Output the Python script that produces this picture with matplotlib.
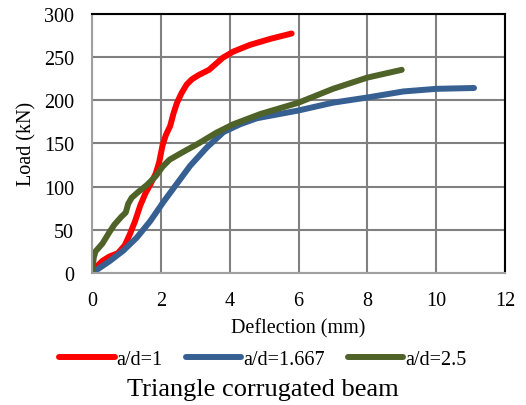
import matplotlib.pyplot as plt

plt.rcParams['font.family'] = ['Liberation Serif', 'DejaVu Serif']

# a/d=1
x1 = [0, 0.15, 0.3, 0.5, 0.75, 0.95, 1.1, 1.25, 1.4, 1.55, 1.7, 1.85, 1.95, 2.05, 2.15,
      2.27, 2.37, 2.47, 2.6, 2.75, 2.9, 3.1, 3.4, 3.6, 3.8, 4.1, 4.6, 5.2, 5.8]
y1 = [0, 8, 14, 19, 23, 32, 45, 60, 78, 92, 103, 115, 128, 148, 160,
      170, 185, 197, 208, 218, 224, 229, 235, 242, 249, 256, 264, 271, 277]
# a/d=1.667
x2 = [0, 0.52, 0.91, 1.3, 1.69, 2.07, 2.46, 2.85, 3.33, 3.82, 4.3, 4.79, 6.0, 7.0, 8.0, 9.05, 10.0, 11.1]
y2 = [0, 14, 26, 41, 60, 82, 103, 124, 145, 163, 172, 179, 188, 197, 203, 210, 213, 214]
# a/d=2.5
x3 = [0, 0.05, 0.1, 0.3, 0.5, 0.65, 0.85, 0.98, 1.05, 1.15, 1.35, 1.6, 1.85, 2.05,
      2.25, 2.6, 3.1, 3.6, 4.1, 4.9, 6.0, 7.0, 8.0, 9.0]
y3 = [0, 18, 25, 34, 47, 56, 65, 70, 80, 87, 94, 102, 112, 123,
      131, 139, 150, 162, 172, 184, 197, 213, 226, 235]

labels = ["a/d=1", "a/d=1.667", "a/d=2.5"]
colors = ["#FF0000", "#376092", "#4F6228"]

fig = plt.figure(figsize=(5.26, 4.06), dpi=100)
ax = fig.add_axes([0.175, 0.325, 0.785, 0.639])

for xs, ys, lab, c in zip([x1, x2, x3], [y1, y2, y3], labels, colors):
    ax.plot(xs, ys, color=c, lw=4.3, label=lab, solid_capstyle="round", solid_joinstyle="round")

ax.set_xlim(0, 12)
ax.set_ylim(0, 300)
ax.set_xticks(range(0, 13, 2))
ax.set_yticks(range(0, 301, 50))
ax.grid(True, color="#808080", lw=1.5)
ax.set_axisbelow(True)
ax.tick_params(length=0, labelsize=14.5, pad=13)
for s in ["top", "right"]:
    ax.spines[s].set_color("black")
    ax.spines[s].set_linewidth(1.5)
for s in ["left", "bottom"]:
    ax.spines[s].set_color("#A0A0A0")
    ax.spines[s].set_linewidth(1.5)

ax.set_xlabel("Deflection (mm)", fontsize=14.5, labelpad=6)
ax.set_ylabel("Load (kN)", fontsize=14.5, labelpad=5)

fig.legend(loc="center", bbox_to_anchor=(0.5, 0.113), ncol=3, frameon=False,
           fontsize=14.5, handlelength=2.75, handletextpad=0.1, columnspacing=1.15)
fig.text(0.5, 0.04, "Triangle corrugated beam", ha="center", va="center", fontsize=19)

fig.savefig("out.png", dpi=100)
